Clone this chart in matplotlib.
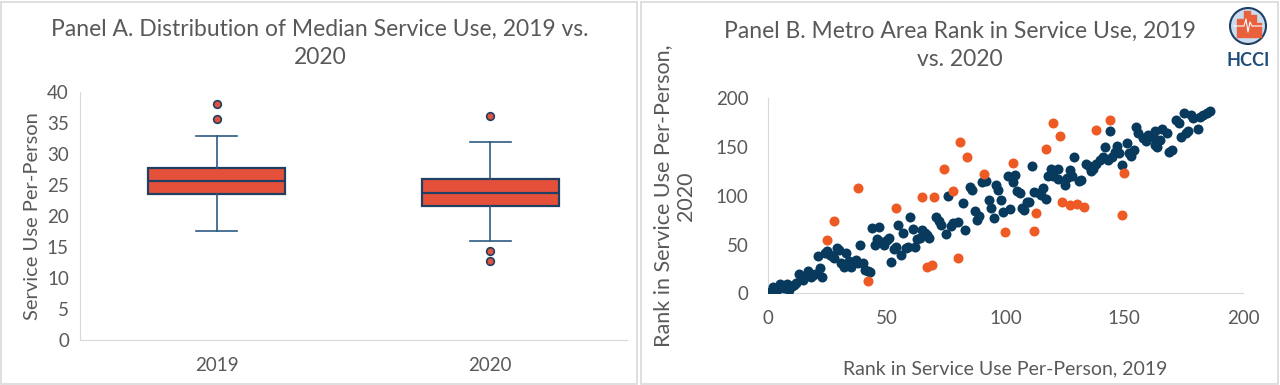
import numpy as np
import matplotlib.pyplot as plt
from matplotlib.patches import Rectangle, Circle

plt.rcParams['font.family'] = ['Lato', 'DejaVu Sans']

# Panel A - box stats
years = ['2019', '2020']
whislo = [17.6, 15.9]
q1 = [23.6, 21.6]
med = [25.7, 23.7]
q3 = [27.8, 26.0]
whishi = [32.9, 32.0]
fliers = [[38.0, 35.7], [36.1, 14.4, 12.8]]

# Panel B - rank 2019 vs rank 2020
blue_x = [1, 2, 2, 3, 4, 5, 6, 7, 8, 8,
          9, 10, 11, 12, 13, 14, 15, 16, 17, 18,
          19, 20, 21, 22, 23, 24, 25, 26, 27, 28,
          29, 30, 31, 32, 33, 34, 35, 37, 38, 39,
          40, 41, 42, 43, 44, 45, 46, 47, 48, 49,
          50, 51, 52, 53, 54, 55, 56, 57, 58, 59,
          60, 61, 62, 63, 64, 65, 66, 67, 68, 71,
          72, 73, 75, 76, 77, 78, 80, 82, 83, 85,
          86, 87, 88, 89, 90, 92, 93, 94, 95, 96,
          97, 98, 99, 101, 102, 103, 104, 105, 106, 107,
          108, 109, 110, 111, 112, 114, 115, 116, 117, 118,
          119, 120, 122, 122, 125, 126, 127, 128, 129, 131,
          132, 134, 135, 136, 137, 138, 140, 141, 142, 143,
          144, 145, 146, 147, 148, 149, 151, 152, 153, 154,
          155, 156, 158, 159, 160, 162, 163, 163, 164, 165,
          166, 168, 169, 170, 172, 173, 174, 175, 176, 177,
          178, 179, 181, 182, 183, 185, 186]
blue_y = [1, 3, 6, 2, 3, 10, 7, 5, 10, 6,
          3, 8, 9, 11, 20, 15, 14, 18, 23, 17,
          19, 20, 38, 26, 17, 41, 43, 39, 38, 36,
          46, 44, 31, 27, 41, 33, 27, 34, 31, 50,
          31, 24, 23, 22, 67, 50, 56, 68, 53, 50,
          55, 57, 32, 45, 48, 70, 39, 62, 46, 48,
          78, 66, 47, 56, 57, 65, 62, 60, 57, 78,
          74, 70, 61, 100, 69, 72, 73, 93, 65, 109,
          106, 84, 75, 79, 114, 115, 96, 87, 77, 111,
          106, 96, 83, 120, 86, 114, 121, 105, 103, 87,
          85, 94, 94, 131, 104, 103, 101, 108, 97, 120,
          128, 120, 127, 117, 111, 118, 126, 120, 140, 115,
          116, 133, 131, 125, 128, 133, 137, 140, 150, 137,
          166, 140, 145, 151, 144, 132, 154, 144, 141, 147,
          171, 164, 159, 156, 162, 160, 166, 152, 150, 157,
          169, 164, 145, 147, 178, 175, 160, 185, 164, 166,
          183, 180, 169, 181, 183, 185, 187]
orange_x = [25, 28, 38, 42, 54, 65, 70, 67, 69, 74,
            78, 80, 81, 84, 91, 100, 103, 112, 113, 117,
            120, 123, 124, 127, 130, 133, 138, 144, 150, 149]
orange_y = [55, 74, 108, 13, 88, 99, 99, 27, 29, 128,
            105, 36, 155, 140, 122, 63, 134, 64, 82, 148,
            175, 161, 94, 91, 92, 89, 167, 178, 123, 80]

W, H = 1280, 385
fig = plt.figure(figsize=(12.8, 3.85), dpi=100)
grey = '#595959'
navy = '#1F3F63'

# panel frames
for x0, x1 in [(1, 637), (641, 1278)]:
    fig.patches.append(Rectangle((x0 / W, 1 / H), (x1 - x0) / W, 382 / H,
                                 transform=fig.transFigure, fill=False,
                                 edgecolor='#D9D9D9', lw=1.2))

# ---- Panel A ----
axA = fig.add_axes([80 / W, 1 - 340 / H, 547 / W, 248 / H])
stats = []
for i in range(2):
    stats.append(dict(whislo=whislo[i], q1=q1[i], med=med[i], q3=q3[i],
                      whishi=whishi[i], fliers=fliers[i]))
bp = axA.bxp(stats, positions=[1, 2], widths=0.5, capwidths=0.15,
             patch_artist=True,
             boxprops=dict(facecolor='#E5503A', edgecolor=navy, lw=1.6),
             medianprops=dict(color=navy, lw=1.6),
             whiskerprops=dict(color='#2E5A82', lw=1.2),
             capprops=dict(color='#2E5A82', lw=1.2),
             flierprops=dict(marker='o', markerfacecolor='#E5503A',
                             markeredgecolor=navy, markersize=5.5, mew=1.2))
axA.set_xlim(0.5, 2.5)
axA.set_ylim(0, 40)
axA.set_yticks(range(0, 41, 5))
axA.set_xticks([1, 2])
axA.set_xticklabels(years)
axA.tick_params(length=0, labelsize=13.5, colors=grey, pad=8)
axA.tick_params(axis='x', pad=12)
for s in ['top', 'right']:
    axA.spines[s].set_visible(False)
for s in ['left', 'bottom']:
    axA.spines[s].set_color('#D9D9D9')
axA.set_ylabel('Service Use Per-Person', fontsize=14.5, color=grey, labelpad=4)
fig.text(320 / W, 1 - 29 / H, 'Panel A. Distribution of Median Service Use, 2019 vs.',
         ha='center', va='center', fontsize=16.5, color=grey)
fig.text(320 / W, 1 - 58 / H, '2020', ha='center', va='center',
         fontsize=16.5, color=grey)

# ---- Panel B ----
axB = fig.add_axes([767.8 / W, 1 - 293.3 / H, 475.2 / W, 195 / H])
axB.scatter(blue_x, blue_y, s=52, color='#083A5E', zorder=3, lw=0)
axB.scatter(orange_x, orange_y, s=52, color='#EE5A24', zorder=3, lw=0)
axB.set_xlim(0, 200)
axB.set_ylim(0, 200)
axB.set_xticks(range(0, 201, 50))
axB.set_yticks(range(0, 201, 50))
axB.tick_params(length=0, labelsize=13.5, colors=grey, pad=14)
axB.tick_params(axis='x', pad=12)
for s in ['top', 'right']:
    axB.spines[s].set_visible(False)
for s in ['left', 'bottom']:
    axB.spines[s].set_color('#D9D9D9')
axB.set_xlabel('Rank in Service Use Per-Person, 2019', fontsize=14, color=grey,
               labelpad=24)
axB.set_ylabel('Rank in Service Use Per-Person,\n2020', fontsize=15.5, color=grey,
               labelpad=14)
fig.text(960 / W, 1 - 31 / H, 'Panel B. Metro Area Rank in Service Use, 2019',
         ha='center', va='center', fontsize=16.5, color=grey)
fig.text(960 / W, 1 - 60 / H, 'vs. 2020', ha='center', va='center',
         fontsize=16.5, color=grey)

# HCCI logo
axL = fig.add_axes([1224 / W, 1 - 50 / H, 48 / W, 48 / H])
axL.set_xlim(-1.2, 1.2)
axL.set_ylim(-1.2, 1.2)
axL.set_aspect('equal')
axL.axis('off')
axL.add_patch(Circle((0, 0), 0.9, facecolor='#C9DCF0', edgecolor='#1F3F63', lw=1.5))
for bx, bw, bh in [(-0.55, 0.3, 0.9), (-0.22, 0.3, 1.3), (0.12, 0.3, 1.1), (0.44, 0.22, 0.7)]:
    axL.add_patch(Rectangle((bx, -0.55), bw, bh, color='#E8603C'))
axL.plot([-0.7, -0.2, -0.1, 0.0, 0.1, 0.2, 0.7], [0, 0, 0.35, -0.3, 0.2, 0, 0],
         color='white', lw=0.8)
fig.text(1248 / W, 1 - 61 / H, 'HCCI', ha='center', va='center', fontsize=13,
         fontweight='bold', color='#1F4E79')

fig.savefig('out.png', dpi=100)
